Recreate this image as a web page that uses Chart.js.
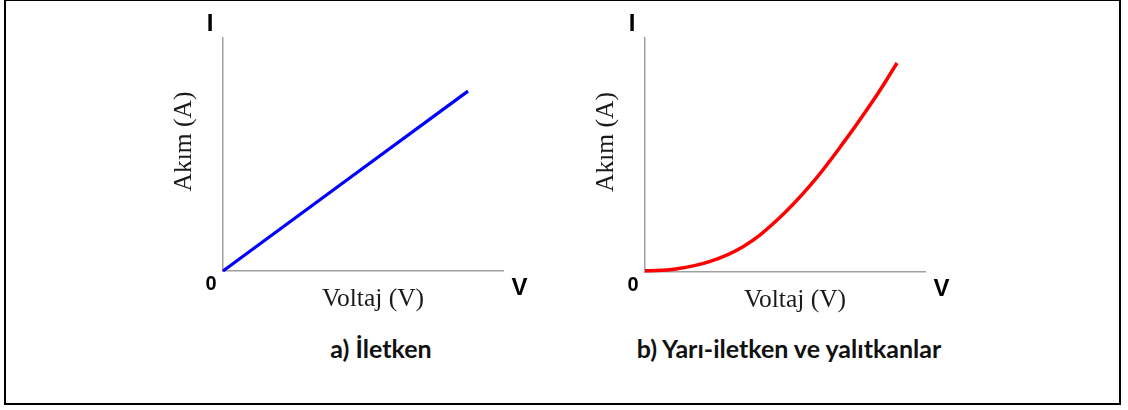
<!DOCTYPE html>
<html>
<head>
<meta charset="utf-8">
<script src="https://cdn.jsdelivr.net/npm/chart.js@4.4.1/dist/chart.umd.min.js"></script>
<style>
  body { margin: 0; background: #fff; width: 1128px; height: 410px; overflow: hidden; position: relative; }
  .frame { position: absolute; left: 4px; top: -1px; width: 1117px; height: 406px; border: 2px solid #000; box-sizing: border-box; }
  .panel { position: absolute; top: 0; width: 400px; height: 330px; }
  .caption { position: absolute; top: 333px; font: bold 25px Lato, sans-serif; color: #111; white-space: nowrap; transform: translateX(-50%); }
</style>
</head>
<body>
<div class="frame"></div>
<div class="panel" style="left:150px"><canvas id="conductor"></canvas></div>
<div class="panel" style="left:570px"><canvas id="semiconductor"></canvas></div>
<div class="caption" id="capA" style="left:381px"></div>
<div class="caption" id="capB" style="left:789px"></div>

<script>
// === DATA ===
const axisLetters = ['I', 'V', '0'];
const axisTitles = ['Akım (A)', 'Voltaj (V)'];
const captions = ['a) İletken', 'b) Yarı-iletken ve yalıtkanlar'];

// conductor: straight line from the origin
const conductorV = [0, 8.75];
const conductorI = [0, 7.72];

// semiconductor / insulator: slow start, then bending upward
const semiV = [0, 1.1, 2.3, 3.5, 4.7, 5.9, 7.1, 8.3, 9.0];
const semiI = [0.05, 0.13, 0.44, 1.08, 2.2, 3.7, 5.55, 7.6, 8.93];

document.getElementById('capA').textContent = captions[0];
document.getElementById('capB').textContent = captions[1];

// === LABELS AROUND THE AXES ===
const axisText = {
  id: 'axisText',
  afterDraw(chart) {
    const { ctx, chartArea: a } = chart;
    ctx.save();
    ctx.fillStyle = '#000';
    ctx.textAlign = 'center';
    ctx.textBaseline = 'alphabetic';

    ctx.font = 'bold 24px "Liberation Sans"';
    ctx.fillText(axisLetters[0], a.left - 13, a.top - 7);
    ctx.fillText(axisLetters[1], a.right + 16.5, a.bottom + 24);
    ctx.font = 'bold 20px "Liberation Sans"';
    ctx.fillText(axisLetters[2], a.left - 12, a.bottom + 18.5);

    ctx.fillStyle = '#1a1a1a';
    ctx.font = '25.5px "Liberation Serif"';
    ctx.fillText(axisTitles[1], (a.left + a.right) / 2 + 10, a.bottom + 35);

    ctx.translate(a.left - 39, (a.top + a.bottom) / 2 - 13);
    ctx.rotate(-Math.PI / 2);
    ctx.textBaseline = 'middle';
    ctx.fillText(axisTitles[0], 0, 0);
    ctx.restore();
  }
};

function plainAxis() {
  return {
    type: 'linear',
    min: 0,
    max: 10,
    ticks: { display: false },
    grid: { display: false, drawTicks: false },
    border: { display: true, color: '#a0a0a0', width: 1.5 }
  };
}

function makeChart(id, xs, ys, color, width, padding) {
  return new Chart(document.getElementById(id), {
    type: 'line',
    data: {
      datasets: [{
        data: xs.map((v, i) => ({ x: v, y: ys[i] })),
        borderColor: color,
        borderWidth: width,
        pointRadius: 0,
        tension: 0.4,
        clip: false,
        fill: false
      }]
    },
    options: {
      responsive: true,
      maintainAspectRatio: false,
      animation: false,
      layout: { padding },
      plugins: { legend: { display: false }, tooltip: { enabled: false } },
      scales: { x: plainAxis(), y: plainAxis() }
    },
    plugins: [axisText]
  });
}

makeChart('conductor', conductorV, conductorI, '#0000ff', 3.2, { left: 73, right: 47, top: 38, bottom: 59 });
makeChart('semiconductor', semiV, semiI, '#ff0000', 3.5, { left: 75, right: 45, top: 38, bottom: 58 });
</script>
</body>
</html>
